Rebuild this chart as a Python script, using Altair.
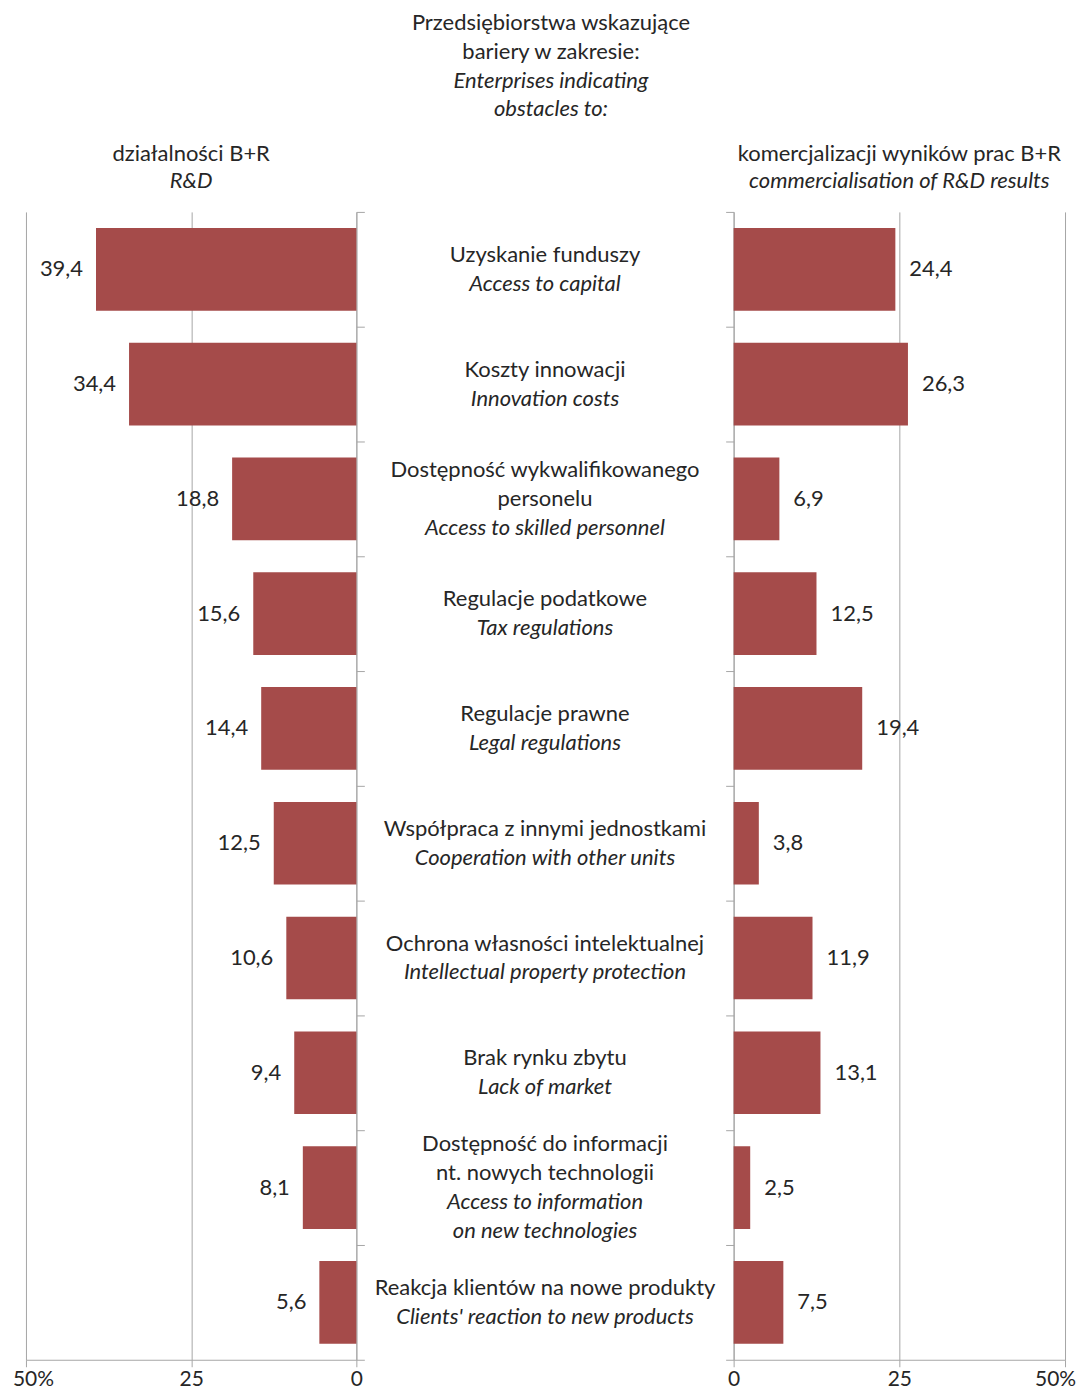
import altair as alt
import pandas as pd

# ---- data ----
labels_pl = [
    ["Uzyskanie funduszy"],
    ["Koszty innowacji"],
    ["Dostępność wykwalifikowanego", "personelu"],
    ["Regulacje podatkowe"],
    ["Regulacje prawne"],
    ["Współpraca z innymi jednostkami"],
    ["Ochrona własności intelektualnej"],
    ["Brak rynku zbytu"],
    ["Dostępność do informacji", "nt. nowych technologii"],
    ["Reakcja klientów na nowe produkty"],
]
labels_en = [
    ["Access to capital"],
    ["Innovation costs"],
    ["Access to skilled personnel"],
    ["Tax regulations"],
    ["Legal regulations"],
    ["Cooperation with other units"],
    ["Intellectual property protection"],
    ["Lack of market"],
    ["Access to information", "on new technologies"],
    ["Clients' reaction to new products"],
]
rd_values = [39.4, 34.4, 18.8, 15.6, 14.4, 12.5, 10.6, 9.4, 8.1, 5.6]
comm_values = [24.4, 26.3, 6.9, 12.5, 19.4, 3.8, 11.9, 13.1, 2.5, 7.5]
x_ticks = [0, 25, 50]

title_pl = ["Przedsiębiorstwa wskazujące", "bariery w zakresie:"]
title_en = ["Enterprises indicating", "obstacles to:"]
left_title = ("działalności B+R", "R&D")
right_title = ("komercjalizacji wyników prac B+R", "commercialisation of R&D results")

# ---- style ----
FONT = "Lato"
FS = 22
AXFS = 21
TXT = "#262626"
BAR = "#A54B4A"
GRID = "#A6A6A6"
PLOT_H = 1150
LINE_H = 29

keys = [str(i) for i in range(len(rd_values))]
bars_df = pd.DataFrame({"key": keys, "rd": rd_values, "comm": comm_values})

rows = []
step = PLOT_H / len(keys)
for i, (pl, en) in enumerate(zip(labels_pl, labels_en)):
    lines = [(t, "normal") for t in pl] + [(t, "italic") for t in en]
    n = len(lines)
    for k, (t, s) in enumerate(lines):
        rows.append({"text": t, "style": s, "pos": i + 0.5 + (k - (n - 1) / 2) * LINE_H / step})
text_df = pd.DataFrame(rows)

fmt_expr = "replace(format(datum.v, '.1f'), '.', ',')"


def y_enc(orient):
    return alt.Y(
        "key:N",
        sort=keys,
        scale=alt.Scale(paddingInner=0, paddingOuter=0),
        axis=alt.Axis(
            orient=orient, labels=False, title=None, grid=False,
            domainColor=GRID, tickColor=GRID, tickSize=8, tickBand="extent",
        ),
    )


def x_enc(field, reverse, flush_off):
    return alt.X(
        f"{field}:Q",
        scale=alt.Scale(domain=[0, 50], reverse=reverse, nice=False),
        axis=alt.Axis(
            values=x_ticks, title=None, grid=True, gridColor=GRID,
            domainColor=GRID, tickColor=GRID, tickSize=7, labelFlush=False,
            labelExpr="datum.value == 50 ? '50%' : datum.label",
            labelFont=FONT, labelFontSize=AXFS, labelColor=TXT, labelPadding=2,
            labelOffset={"condition": {"test": "datum.value == 50", "value": flush_off}, "value": 0},
        ),
    )


def panel(field, reverse, orient, flush_off, align, dx, ttl):
    base = alt.Chart(bars_df).transform_calculate(v=f"datum.{field}").transform_calculate(lbl=fmt_expr)
    bars = base.mark_bar(color=BAR, height={"band": 0.72}).encode(
        x=x_enc(field, reverse, flush_off), y=y_enc(orient)
    )
    txt = base.mark_text(align=align, baseline="middle", dx=dx, font=FONT, fontSize=FS, color=TXT).encode(
        x=alt.X(f"{field}:Q"), y=alt.Y("key:N", sort=keys), text="lbl:N"
    )
    return alt.layer(bars, txt).properties(
        width=331 if reverse else 332,
        height=PLOT_H,
        title=alt.TitleParams(
            text=ttl[0], subtitle=ttl[1], font=FONT, subtitleFont=FONT,
            fontSize=FS, subtitleFontSize=FS, fontWeight="normal",
            color=TXT, subtitleColor=TXT, subtitleFontStyle="italic",
            anchor="middle", frame="group", offset=18, subtitlePadding=6,
        ),
    )


left = panel("rd", True, "right", 7, "right", -13, left_title)
right = panel("comm", False, "left", -10, "left", 14, right_title)

mid_base = alt.Chart(text_df).encode(
    x=alt.value(189),
    y=alt.Y("pos:Q", scale=alt.Scale(domain=[0, len(keys)], reverse=True, nice=False), axis=None),
    text="text:N",
)
mid_norm = mid_base.transform_filter("datum.style == 'normal'").mark_text(
    align="center", baseline="middle", font=FONT, fontSize=FS, color=TXT
)
mid_ital = mid_base.transform_filter("datum.style == 'italic'").mark_text(
    align="center", baseline="middle", font=FONT, fontSize=FS, color=TXT, fontStyle="italic"
)
middle = alt.layer(mid_norm, mid_ital).properties(width=378, height=PLOT_H)

chart = (
    alt.hconcat(left, middle, right, spacing=0)
    .properties(
        bounds="flush",
        padding={"left": 4, "top": 2, "right": 0, "bottom": 0},
        title=alt.TitleParams(
            text=title_pl, subtitle=title_en, font=FONT, subtitleFont=FONT,
            fontSize=FS, subtitleFontSize=FS, fontWeight="normal",
            color=TXT, subtitleColor=TXT, subtitleFontStyle="italic",
            lineHeight=29, subtitleLineHeight=28, subtitlePadding=7,
            anchor="middle", offset=22, dx=7,
        ),
    )
    .configure_view(stroke=None)
)

chart.save("out.html", embed_options={"renderer": "svg", "actions": False})
